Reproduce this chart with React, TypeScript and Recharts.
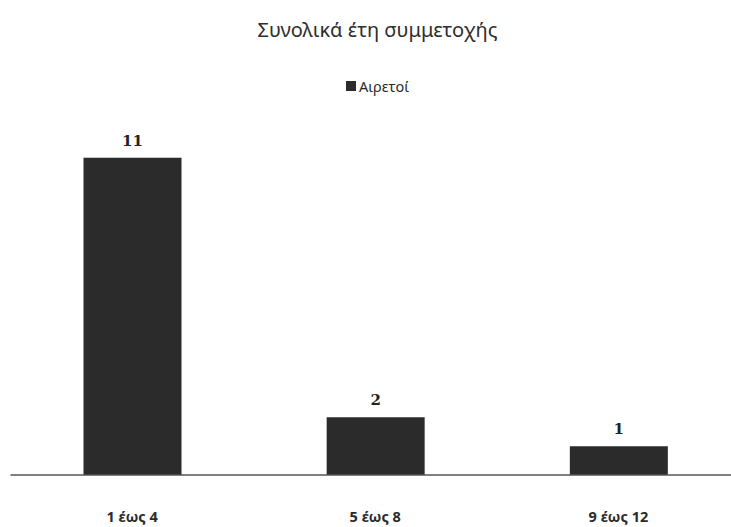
import React from "react";
import { BarChart, Bar, XAxis, YAxis, LabelList } from "recharts";

const categories = ["1 έως 4", "5 έως 8", "9 έως 12"];
const aiRetoi = [11, 2, 1];
const seriesName = "Αιρετοί";
const title = "Συνολικά έτη συμμετοχής";

const data = categories.map((c, i) => ({ name: c, value: aiRetoi[i] }));

const FONT = "'Noto Sans', sans-serif";

const CatTick = (props: any) => {
  const { x, payload } = props;
  return (
    <text x={x} y={522} textAnchor="middle" fontFamily={FONT} fontWeight="bold" fontSize={14.5} fill="#2a2a2a">
      {payload.value}
    </text>
  );
};

export default function App() {
  return (
    <div style={{ position: "absolute", left: 0, top: 0, width: 731, height: 527, background: "#fff", overflow: "hidden" }}>
      <div style={{ position: "absolute", top: 16, left: 0, width: 755, textAlign: "center", fontFamily: FONT, fontSize: 20, color: "#2e2e2e", lineHeight: "28px" }}>
        {title}
      </div>
      <div style={{ position: "absolute", top: 76, left: 0, width: 755, display: "flex", justifyContent: "center", alignItems: "center", fontFamily: FONT, fontSize: 14.5, color: "#2a2a2a", lineHeight: "20px" }}>
        <span style={{ display: "inline-block", width: 10, height: 10, background: "#2b2b2b", marginRight: 3 }} />
        <span>{seriesName}</span>
      </div>
      <BarChart width={740} height={527} data={data} margin={{ top: 129, right: 0, bottom: 0, left: 10.5 }}>
        <YAxis hide domain={[0, 12]} />
        <XAxis dataKey="name" height={52} axisLine={{ stroke: "#555", strokeWidth: 1.5 }} tickLine={false} tick={<CatTick />} interval={0} />
        <Bar dataKey="value" name={seriesName} fill="#2b2b2b" barSize={98} isAnimationActive={false}>
          <LabelList dataKey="value" position="top" offset={12} style={{ fontFamily: "'DejaVu Serif', serif", fontSize: 15, fontWeight: "bold", fill: "#222" }} />
        </Bar>
      </BarChart>
    </div>
  );
}
